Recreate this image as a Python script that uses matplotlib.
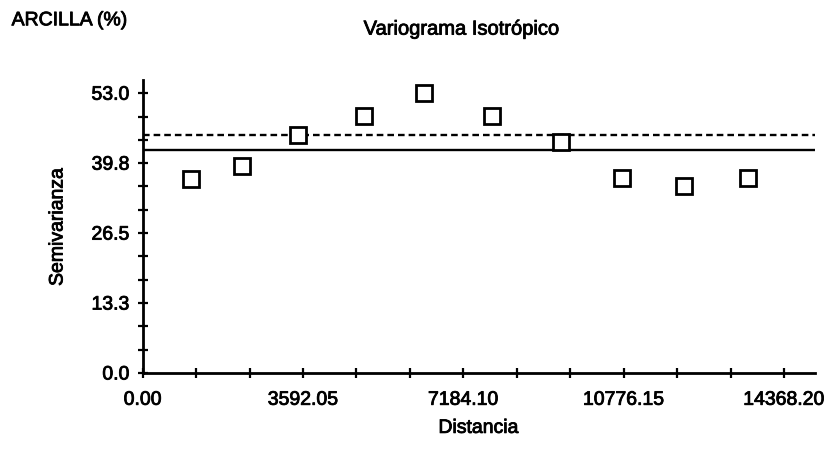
import matplotlib
matplotlib.use("Agg")
import matplotlib.pyplot as plt
import matplotlib.patheffects as pe
from matplotlib.ticker import FixedLocator, FixedFormatter

plt.rcParams['font.family'] = ['Liberation Sans', 'DejaVu Sans']

# Data
lag_distance = [1075, 2232, 3487, 4962, 6310, 7833, 9366, 10747, 12129, 13569]
semivariance = [36.8, 39.3, 45.1, 48.6, 53.0, 48.7, 43.7, 36.9, 35.5, 37.0]
sample_variance = 45.0   # dashed line
model_sill = 42.2        # solid line

x_major = [0.00, 3592.05, 7184.10, 10776.15, 14368.20]
x_labels = ["0.00", "3592.05", "7184.10", "10776.15", "14368.20"]
y_major = [0.0, 13.25, 26.5, 39.75, 53.0]
y_labels = ["0.0", "13.3", "26.5", "39.8", "53.0"]

x_max = 15060
y_max = 55.5

heavy = [pe.withStroke(linewidth=0.6, foreground='black')]

fig = plt.figure(figsize=(8.29, 4.62), dpi=100)
ax = fig.add_axes([0.1721, 0.1926, 0.983 - 0.1721, 0.8268 - 0.1926])

ax.axhline(sample_variance, color='black', lw=1.7, ls=(0, (2.8, 1.7)))
ax.axhline(model_sill, color='black', lw=1.7, ls='-')
ax.plot(lag_distance, semivariance, ls='none', marker='s', ms=11,
        mfc='white', mec='black', mew=2.0, zorder=5)

ax.set_xlim(0, x_max)
ax.set_ylim(0, y_max)

ax.xaxis.set_major_locator(FixedLocator(x_major))
ax.xaxis.set_major_formatter(FixedFormatter(x_labels))
ax.yaxis.set_major_locator(FixedLocator(y_major))
ax.yaxis.set_major_formatter(FixedFormatter(y_labels))
x_minor = [x_major[i] + (x_major[i + 1] - x_major[i]) * k / 3
           for i in range(len(x_major) - 1) for k in (1, 2)]
y_minor = [y_major[i] + (y_major[i + 1] - y_major[i]) * k / 3
           for i in range(len(y_major) - 1) for k in (1, 2)]
ax.xaxis.set_minor_locator(FixedLocator(x_minor))
ax.yaxis.set_minor_locator(FixedLocator(y_minor))

for s in ('top', 'right'):
    ax.spines[s].set_visible(False)
for s in ('left', 'bottom'):
    ax.spines[s].set_linewidth(2.0)

ax.tick_params(which='both', direction='inout', length=7, width=1.6, labelsize=14)
ax.tick_params(axis='x', which='major', pad=10)
ax.tick_params(axis='y', which='major', pad=6)
for lbl in ax.get_xticklabels() + ax.get_yticklabels():
    lbl.set_path_effects(heavy)

ax.set_xlabel('Distancia', fontsize=14, labelpad=8, path_effects=heavy)
ax.set_ylabel('Semivarianza', fontsize=14, labelpad=18, path_effects=heavy)

fig.text(0.014, 0.955, 'ARCILLA (%)', fontsize=14, ha='left', va='center',
         path_effects=heavy)
fig.text(0.557, 0.937, 'Variograma Isotrópico', fontsize=14.5, ha='center',
         va='center', path_effects=heavy)

fig.savefig('out.png', dpi=100)
